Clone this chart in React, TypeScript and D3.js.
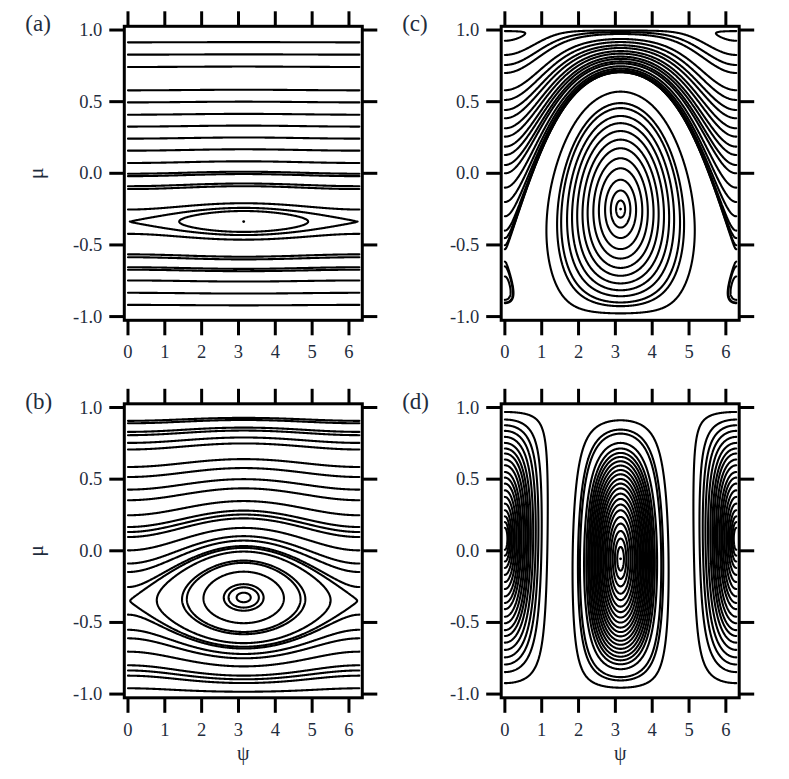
import React, { useMemo } from "react";
import * as d3 from "d3";

// ---------------- data ----------------
const panelLabels = ["(a)", "(b)", "(c)", "(d)"];
const xTicks = [0, 1, 2, 3, 4, 5, 6];
const yTicks = [-1.0, -0.5, 0.0, 0.5, 1.0];
const xTitle = "ψ";
const yTitle = "μ";

// model H(ψ, μ) = δ μ + μ²/2 + κ sqrt(1-μ²) cos ψ ; orbits are its level curves
const detuning = 0.337;
const couplings = [0.0024, 0.033, 0.337, 5.0];

const PI = Math.PI;

// each orbit is identified by one point [ψ, μ] it passes through
const orbitsA: [number, number][] = [
  [0, 0.914], [0, 0.828], [0, 0.742], [0, 0.579], [0, 0.495], [0, 0.409],
  [0, 0.326], [0, 0.242], [0, 0.158], [0, 0.072], [0, -0.003], [0, -0.02],
  [0, -0.09], [0, -0.11], [0, -0.253], [0.05, -0.337], [1.39, -0.337],
];
const orbitsB: [number, number][] = [
  [0, 0.907], [0, 0.89], [0, 0.83], [0, 0.807], [0, 0.753], [0, 0.707],
  [0, 0.585], [0, 0.515], [0, 0.427], [0, 0.353], [0, 0.248], [0, 0.166],
  [0, 0.131], [0, 0.096], [0, 0.003], [0, -0.089], [0, -0.148], [0, -0.253],
  [0.06, -0.349], [0.79, -0.326], [1.47, -0.326], [1.6, -0.326], [2.05, -0.326],
  [2.6, -0.326], [2.73, -0.326], [2.95, -0.326],
];
const orbitsC: [number, number][] = [
  [PI, 0.57], [PI, 0.49], [PI, 0.455], [PI, 0.4], [PI, 0.35], [PI, 0.295],
  [PI, 0.235], [PI, 0.175], [PI, 0.105], [PI, 0.035], [PI, -0.045], [PI, -0.12],
  [PI, -0.19],
  [0, 0.826], [0, 0.756], [0, 0.7], [0, 0.58], [0, 0.512], [0, 0.442], [0, 0.384],
  [0, 0.314], [0, 0.256], [0, 0.186], [0, 0.128], [0, 0.058], [0, 0.0],
  [0, -0.1], [0, -0.2], [0, -0.3], [0, -0.4], [0, -0.53],
  [0, 0.925], [0, -0.65], [0, -0.72],
];
const orbitsD: [number, number][] = [
  [PI, 0.911], [PI, 0.846], [PI, 0.818], [PI, 0.753], [PI, 0.714], [PI, 0.683],
  [PI, 0.655], [PI, 0.625], [PI, 0.595], [PI, 0.564], [PI, 0.534], [PI, 0.501],
  [PI, 0.469], [PI, 0.436], [PI, 0.399], [PI, 0.362], [PI, 0.323], [PI, 0.283],
  [PI, 0.236], [PI, 0.19], [PI, 0.138], [PI, 0.085], [PI, 0.027],
  [0, 0.969], [0, 0.916], [0, 0.876], [0, 0.837], [0, 0.795], [0, 0.753],
  [0, 0.714], [0, 0.679], [0, 0.637], [0, 0.597], [0, 0.55], [0, 0.511],
  [0, 0.469], [0, 0.422], [0, 0.376], [0, 0.329], [0, 0.283], [0, 0.24],
  [0, 0.2], [0, 0.16],
];
const fixedPointsA: [number, number][] = [[PI, -0.337]];
const fixedPointsB: [number, number][] = [];
const fixedPointsC: [number, number][] = [[PI, -0.25]];
const fixedPointsD: [number, number][] = [[PI, -0.056]];

// ---------------- helpers ----------------
const hamiltonian = (psi: number, mu: number, k: number) =>
  detuning * mu + 0.5 * mu * mu + k * Math.sqrt(Math.max(0, 1 - mu * mu)) * Math.cos(psi);

const NX = 420;
const NY = 360;

function orbitLines(k: number, seeds: [number, number][]): [number, number][][] {
  const values = new Float64Array(NX * NY);
  const cosP = new Float64Array(NX);
  for (let i = 0; i < NX; i++) cosP[i] = Math.cos((2 * PI * i) / (NX - 1));
  for (let j = 0; j < NY; j++) {
    const mu = -1 + (2 * j) / (NY - 1);
    const s = Math.sqrt(Math.max(0, 1 - mu * mu));
    const base = detuning * mu + 0.5 * mu * mu;
    for (let i = 0; i < NX; i++) values[j * NX + i] = base + k * s * cosP[i];
  }
  const gen = d3.contours().size([NX, NY]).smooth(true);
  const onB = (p: number[]) => p[0] <= 0 || p[0] >= NX || p[1] <= 0 || p[1] >= NY;
  const toData = (p: number[]): [number, number] => {
    let psi = (p[0] - 0.5) * ((2 * PI) / (NX - 1));
    let mu = -1 + (p[1] - 0.5) * (2 / (NY - 1));
    psi = Math.max(0, Math.min(2 * PI, psi));
    mu = Math.max(-1, Math.min(1, mu));
    return [psi, mu];
  };
  const out: [number, number][][] = [];
  for (const [ps, ms] of seeds) {
    const thr = hamiltonian(ps, ms, k);
    const mp = gen.contour(values as any, thr);
    for (const poly of mp.coordinates as any) {
      for (const ringRaw of poly as number[][][]) {
        let ring = ringRaw.slice(0, ringRaw.length - 1);
        const bi = ring.findIndex(onB);
        if (bi > 0) ring = ring.slice(bi).concat(ring.slice(0, bi));
        ring = ring.concat([ring[0]]);
        let cur: [number, number][] = [];
        for (let q = 0; q < ring.length - 1; q++) {
          const a = ring[q], b = ring[q + 1];
          if (onB(a) || onB(b)) {
            if (cur.length > 1) out.push(cur);
            cur = [];
            continue;
          }
          if (cur.length === 0) cur.push(toData(a));
          cur.push(toData(b));
        }
        if (cur.length > 1) out.push(cur);
      }
    }
  }
  return out;
}

// ---------------- component ----------------
const FONT = "'Liberation Serif', 'Times New Roman', serif";
const TEXT = "#1f2d3d";
const FW = 238;
const FH = 294;

function Panel(props: {
  label: string; left: number; top: number; k: number; seeds: [number, number][];
  dots: [number, number][]; showX: boolean; showY: boolean;
}) {
  const { label, left, top, k, seeds, dots, showX, showY } = props;
  const x = d3.scaleLinear().domain([-0.1, 6.362]).range([left, left + FW]);
  const y = d3.scaleLinear().domain([-1.026, 1.026]).range([top + FH, top]);
  const lines = useMemo(() => orbitLines(k, seeds), [k, seeds]);
  const line = d3.line<[number, number]>().x((d) => x(d[0])).y((d) => y(d[1]));
  const right = left + FW;
  const bottom = top + FH;
  const T = 15;
  return (
    <g>
      <text x={left - 99} y={top + 5} fontFamily={FONT} fontSize={23} fill={TEXT}>{label}</text>
      <g fill="none" stroke="#000" strokeWidth={2.1} strokeLinejoin="round" strokeLinecap="round">
        {lines.map((l, i) => <path key={i} d={line(l) || ""} />)}
      </g>
      {dots.map((d, i) => <circle key={i} cx={x(d[0])} cy={y(d[1])} r={1.4} fill="#000" />)}
      <rect x={left} y={top} width={FW} height={FH} fill="none" stroke="#000" strokeWidth={3} />
      <g stroke="#000" strokeWidth={3}>
        {yTicks.map((v) => (
          <g key={"y" + v}>
            <line x1={left - T} x2={left} y1={y(v)} y2={y(v)} />
            <line x1={right} x2={right + T} y1={y(v)} y2={y(v)} />
          </g>
        ))}
        {xTicks.map((v) => (
          <g key={"x" + v}>
            <line x1={x(v)} x2={x(v)} y1={top - T} y2={top} />
            <line x1={x(v)} x2={x(v)} y1={bottom} y2={bottom + T} />
          </g>
        ))}
      </g>
      <g fontFamily={FONT} fontSize={18.5} fill={TEXT}>
        {yTicks.map((v) => (
          <text key={"yl" + v} x={left - 22} y={y(v) + 6} textAnchor="end">{v.toFixed(1)}</text>
        ))}
        {xTicks.map((v) => (
          <text key={"xl" + v} x={x(v)} y={bottom + 38} textAnchor="middle">{String(v)}</text>
        ))}
      </g>
      {showX && (
        <text x={left + FW / 2} y={bottom + 62} textAnchor="middle" fontFamily={FONT} fontSize={20} fill={TEXT}>{xTitle}</text>
      )}
      {showY && (
        <text transform={`translate(${left - 81},${top + FH / 2}) rotate(-90)`} textAnchor="middle" fontFamily={FONT} fontSize={22} fill={TEXT}>{yTitle}</text>
      )}
    </g>
  );
}

export default function App() {
  const L1 = 124.3, L2 = 501.2, T1 = 26.3, T2 = 403.8;
  return (
    <svg width={789} height={779} style={{ position: "absolute", left: 0, top: 0, background: "#fff" }}>
      <rect width={789} height={779} fill="#fff" />
      <Panel label={panelLabels[0]} left={L1} top={T1} k={couplings[0]} seeds={orbitsA} dots={fixedPointsA} showX={false} showY={true} />
      <Panel label={panelLabels[1]} left={L1} top={T2} k={couplings[1]} seeds={orbitsB} dots={fixedPointsB} showX={true} showY={true} />
      <Panel label={panelLabels[2]} left={L2} top={T1} k={couplings[2]} seeds={orbitsC} dots={fixedPointsC} showX={false} showY={false} />
      <Panel label={panelLabels[3]} left={L2} top={T2} k={couplings[3]} seeds={orbitsD} dots={fixedPointsD} showX={true} showY={false} />
    </svg>
  );
}
